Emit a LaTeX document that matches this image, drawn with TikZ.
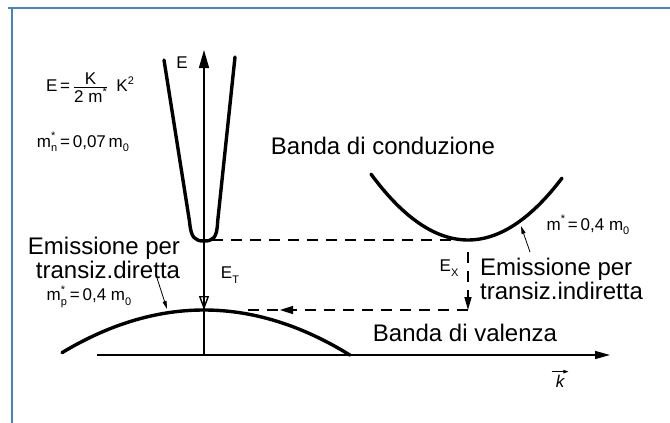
\documentclass[tikz,border=0pt]{standalone}
\usepackage{fontspec}
\setmainfont{Liberation Sans}
\usetikzlibrary{arrows.meta}
\newcommand\smallsc[1]{{\fontsize{11}{11}\selectfont #1}}
\newcommand\mstar[1]{m\rlap{\raisebox{0.8ex}{\smallsc{*}}}\raisebox{-0.5ex}{\smallsc{#1}}}
\newcommand\msub[1]{m\raisebox{-0.5ex}{\smallsc{#1}}}
\definecolor{frameblue}{RGB}{70,130,200}
\begin{document}
\begin{tikzpicture}[x=1pt,y=-1pt,
  band/.style={line width=3.4pt, line cap=round},
  axis/.style={line width=1.4pt},
  dsh/.style={line width=1.5pt, dash pattern=on 11pt off 8pt},
  big/.style={font=\fontsize{24}{22}\selectfont, inner sep=0pt},
  lbl/.style={font=\fontsize{17}{19}\selectfont, inner sep=0pt},
  thin/.style={line width=0.8pt, -{Triangle[length=8pt,width=4pt]}},
]
\useasboundingbox (0,0) rectangle (670,423);
\draw[frameblue, line width=2pt] (8,8) -- (670,8);
\draw[frameblue, line width=2pt] (12,8) -- (12,423);

% key points
\coordinate (O) at (204,355);
\coordinate (Etop) at (204,50);
\coordinate (kstart) at (97,355);
\coordinate (kend) at (610,355);
\coordinate (Gc) at (204,241);
\coordinate (Gv) at (204,310);
\coordinate (Gcd) at (212,240);
\coordinate (Xc) at (468,240);
\coordinate (Xcb) at (468,252);
\coordinate (Xv) at (468,310);
\coordinate (Vd) at (240,310);
\coordinate (mA) at (294,310);
\coordinate (mB) at (280,310);

% axes
\draw[axis, -{Triangle[length=18pt,width=10pt]}] (O) -- (Etop);
\draw[axis, -{Triangle[length=15pt,width=8pt]}] (kstart) -- (kend);

% direct valley (conduction, Gamma)
\draw[band] (164,60) -- (189.6,222) .. controls (191,238) and (195,241) .. (Gc)
  .. controls (213,241) and (217,238) .. (217.6,222) -- (235,57);

% indirect valley
\draw[band] plot[domain=-97:94, samples=60] ({468+\x},{240-(0.0837*\x)*(0.0837*\x)});

% valence band
\draw[band] plot[domain=-142:146, samples=80] ({204+\x},{310+(0.046*\x)*(0.046*\x)});

% E_T transition arrow (open head on axis)
\draw[axis, -{Triangle[open,length=14pt,width=10pt]}] (Gc) -- (Gv);

% dashed lines
\draw[dsh] (Gcd) -- (Xc);
\draw[dsh, -{Triangle[length=13pt,width=7pt]}] (Xcb) -- (Xv);
\draw[dsh] (Xv) -- (Vd);
\draw[line width=1.5pt, -{Triangle[length=13pt,width=8pt]}] (mA) -- (mB);

% labels
\node[lbl] (Elab) at (182,63) {E};
\node[lbl] (formula) at (90,88) {E\,=\,$\frac{\mbox{K}}{\mbox{2 m\raisebox{0.8ex}{\smallsc{*}}}}$\enspace K\raisebox{0.8ex}{\smallsc{2}}};
\node[lbl] (mn) at (83,142) {\mstar{n}\,=\,0,07\,\msub{0}};
\node[big] (bc) at (383,146) {Banda di conduzione};
\node[big, align=right] (ed) at (104,258) {Emissione per\\transiz.diretta};
\node[lbl] (mp) at (89,297) {\mstar{p}\,=\,0,4 \msub{0}};
\node[lbl] (ET) at (230,275) {E\raisebox{-0.5ex}{\smallsc{T}}};
\node[lbl] (EX) at (449,268) {E\raisebox{-0.5ex}{\smallsc{X}}};
\node[big, align=left, anchor=west] (ei) at (480,279) {Emissione per\\transiz.indiretta};
\node[lbl] (mx) at (588,225) {m\raisebox{0.8ex}{\smallsc{*}}\,=\,0,4 \msub{0}};
\node[big] (bv) at (465,333) {Banda di valenza};
\node[lbl, font=\fontsize{17}{19}\selectfont\itshape] (kl) at (560,381) {k};
\draw[line width=0.8pt, -{Triangle[length=5pt,width=3.5pt]}] ([xshift=-4pt,yshift=3pt]kl.north west) -- ([xshift=4pt,yshift=3pt]kl.north east);

% pointer arrows
\coordinate (pd) at (167,309);
\coordinate (pi) at (521,226);
\draw[thin] (157,278) -- (pd);
\draw[thin] (530,252) -- (pi);
\end{tikzpicture}
\end{document}
